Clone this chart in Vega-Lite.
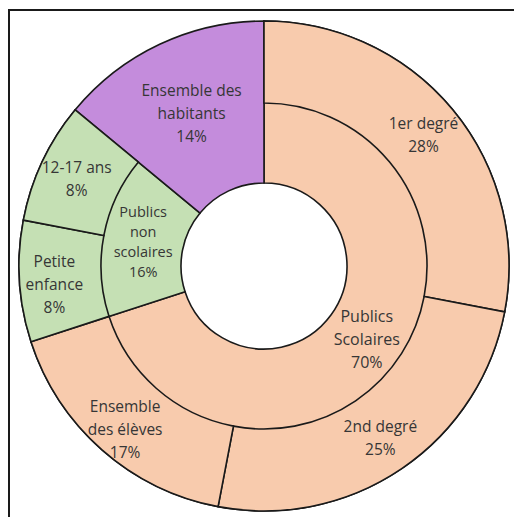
{
  "$schema": "https://vega.github.io/schema/vega-lite/v6.json",
  "autosize": "none",
  "width": 510,
  "height": 512,
  "padding": {"left": 9, "top": 10, "right": 0, "bottom": 0},
  "background": "white",
  "view": {"stroke": "#1a1a1a", "strokeWidth": 2, "fill": "white"},
  "config": {
    "view": {"stroke": "#1a1a1a", "strokeWidth": 2},
    "text": {"font": "Open Sans", "color": "#363636"}
  },
  "data": {
    "values": [
      {"ring": "outer", "name": "1er degré", "value": 28, "grp": "scol", "ord": 1},
      {"ring": "outer", "name": "2nd degré", "value": 25, "grp": "scol", "ord": 2},
      {"ring": "outer", "name": "Ensemble\ndes élèves", "value": 17, "grp": "scol", "ord": 3},
      {"ring": "outer", "name": "Petite\nenfance", "value": 8, "grp": "nonscol", "ord": 4},
      {"ring": "outer", "name": "12-17 ans", "value": 8, "grp": "nonscol", "ord": 5},
      {"ring": "outer", "name": "Ensemble des\nhabitants", "value": 14, "grp": "hab", "ord": 6},
      {"ring": "inner", "name": "Publics\nScolaires", "value": 70, "grp": "scol", "ord": 1},
      {"ring": "inner", "name": "Publics\nnon\nscolaires", "value": 16, "grp": "nonscol", "ord": 2},
      {"ring": "inner", "name": "Ensemble des\nhabitants", "value": 14, "grp": "hab", "ord": 3}
    ]
  },
  "transform": [
    {"calculate": "datum.name + '\\n' + datum.value + '%'", "as": "label"},
    {"calculate": "length(split(datum.label, '\\n'))", "as": "nl"}
  ],
  "encoding": {
    "theta": {"field": "value", "type": "quantitative", "stack": true, "scale": {"domain": [0, 100]}},
    "order": {"field": "ord", "type": "quantitative"}
  },
  "layer": [
    {
      "transform": [{"filter": "datum.ring === 'inner'"}],
      "mark": {"type": "arc", "innerRadius": 83, "outerRadius": 245, "stroke": "#1a1a1a", "strokeWidth": 1.6},
      "encoding": {
        "color": {
          "field": "grp", "type": "nominal", "legend": null,
          "scale": {"domain": ["scol", "nonscol", "hab"], "range": ["#F8CBAD", "#C5E0B4", "#C48CDC"]}
        }
      }
    },
    {
      "transform": [{"filter": "datum.ring === 'outer'"}],
      "mark": {"type": "arc", "innerRadius": 163, "outerRadius": 245, "stroke": "#1a1a1a", "strokeWidth": 1.6},
      "encoding": {
        "color": {"field": "grp", "type": "nominal", "legend": null},
        "opacity": {"condition": {"test": "datum.grp === 'hab'", "value": 0}, "value": 1}
      }
    },
    {
      "transform": [{"filter": "datum.ring === 'outer'"}],
      "mark": {"type": "text", "radius": 207, "dy": -10, "fontSize": 15.5, "lineBreak": "\n", "lineHeight": 23},
      "encoding": {
        "text": {"field": "label", "type": "nominal"},
        "opacity": {"condition": {"test": "datum.grp !== 'hab' && datum.nl === 2", "value": 1}, "value": 0}
      }
    },
    {
      "transform": [{"filter": "datum.ring === 'outer'"}],
      "mark": {"type": "text", "radius": 210, "dy": -17, "fontSize": 15.5, "lineBreak": "\n", "lineHeight": 23},
      "encoding": {
        "text": {"field": "label", "type": "nominal"},
        "opacity": {"condition": {"test": "datum.grp !== 'hab' && datum.nl === 3", "value": 1}, "value": 0}
      }
    },
    {
      "transform": [{"filter": "datum.ring === 'inner'"}],
      "mark": {"type": "text", "radius": 127, "dy": -24, "fontSize": 16, "lineBreak": "\n", "lineHeight": 23},
      "encoding": {
        "text": {"field": "label", "type": "nominal"},
        "opacity": {"condition": {"test": "datum.grp !== 'hab' && datum.nl === 3", "value": 1}, "value": 0}
      }
    },
    {
      "transform": [{"filter": "datum.ring === 'inner'"}],
      "mark": {"type": "text", "radius": 123, "dy": -30, "fontSize": 14.5, "lineBreak": "\n", "lineHeight": 20},
      "encoding": {
        "text": {"field": "label", "type": "nominal"},
        "opacity": {"condition": {"test": "datum.grp !== 'hab' && datum.nl === 4", "value": 1}, "value": 0}
      }
    },
    {
      "transform": [{"filter": "datum.ring === 'inner'"}],
      "mark": {"type": "text", "radius": 170, "dy": -21, "fontSize": 15.5, "lineBreak": "\n", "lineHeight": 23},
      "encoding": {
        "text": {"field": "label", "type": "nominal"},
        "opacity": {"condition": {"test": "datum.grp === 'hab'", "value": 1}, "value": 0}
      }
    }
  ]
}
